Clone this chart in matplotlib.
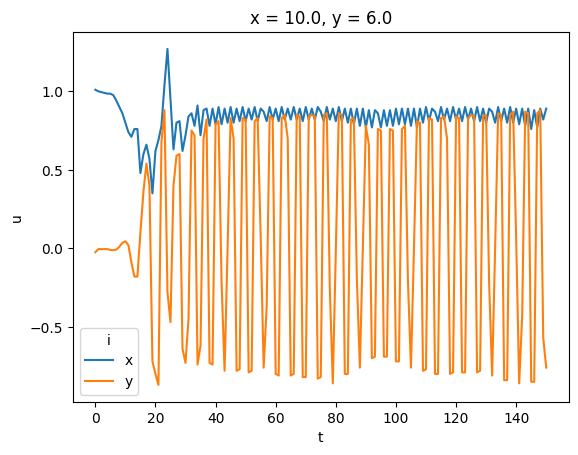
import numpy as np
import matplotlib
matplotlib.use("Agg")
import matplotlib.pyplot as plt

# time axis (one sample per unit)
t = np.arange(0, 151)

# component "x" of u
u_x = [
    1.01, 1.00, 0.995, 0.99, 0.985, 0.985, 0.975, 0.94, 0.90, 0.86,
    0.80, 0.74, 0.71, 0.76, 0.76, 0.48, 0.60, 0.66, 0.57, 0.35,
    0.62, 0.69, 0.78, 1.04, 1.27, 0.95, 0.63, 0.80, 0.81, 0.62,
    0.72, 0.84, 0.86, 0.78, 0.91, 0.72, 0.88, 0.89, 0.78, 0.89,
    0.79, 0.90, 0.79, 0.89, 0.80, 0.90, 0.80, 0.89, 0.81, 0.90,
    0.81, 0.89, 0.82, 0.90, 0.81, 0.89, 0.87, 0.81, 0.90, 0.82,
    0.89, 0.81, 0.90, 0.82, 0.89, 0.82, 0.90, 0.82, 0.89, 0.81,
    0.90, 0.82, 0.89, 0.82, 0.90, 0.87, 0.81, 0.90, 0.82, 0.89,
    0.81, 0.90, 0.81, 0.89, 0.80, 0.89, 0.79, 0.89, 0.78, 0.89,
    0.77, 0.88, 0.77, 0.88, 0.86, 0.77, 0.88, 0.78, 0.88, 0.78,
    0.89, 0.79, 0.89, 0.79, 0.89, 0.78, 0.89, 0.77, 0.89, 0.80,
    0.90, 0.81, 0.89, 0.87, 0.81, 0.90, 0.82, 0.89, 0.81, 0.90,
    0.82, 0.89, 0.81, 0.90, 0.82, 0.89, 0.81, 0.90, 0.81, 0.89,
    0.80, 0.89, 0.87, 0.80, 0.90, 0.81, 0.89, 0.80, 0.90, 0.80,
    0.89, 0.79, 0.89, 0.78, 0.89, 0.76, 0.88, 0.77, 0.89, 0.82,
    0.89,
]

# component "y" of u
u_y = [
    -0.025, -0.005, -0.005, -0.005, -0.005, -0.01, -0.012, -0.008, 0.01, 0.035,
    0.045, 0.02, -0.09, -0.18, -0.18, 0.10, 0.36, 0.54, 0.40, -0.72,
    -0.80, -0.87, 0.68, 0.88, -0.28, -0.47, 0.40, 0.59, 0.60, -0.64,
    -0.73, -0.45, 0.75, 0.72, -0.74, -0.62, 0.70, 0.82, -0.73, -0.74,
    0.79, 0.81, -0.22, -0.78, 0.0, 0.83, 0.70, -0.78, -0.77, 0.83,
    0.82, -0.79, -0.78, 0.81, 0.83, 0.08, -0.76, -0.37, 0.84, 0.83,
    -0.80, -0.81, 0.83, 0.85, 0.70, -0.81, -0.80, 0.85, 0.84, -0.82,
    -0.82, 0.84, 0.85, 0.84, -0.83, -0.82, 0.85, 0.86, -0.25, -0.86,
    -0.02, 0.86, 0.85, -0.80, -0.80, 0.82, 0.83, -0.19, -0.76, 0.0,
    0.78, 0.66, -0.70, -0.69, 0.76, 0.75, -0.69, -0.69, 0.76, 0.75,
    -0.72, -0.72, 0.76, 0.78, -0.21, -0.76, 0.0, 0.81, 0.80, -0.78,
    -0.77, 0.83, 0.82, -0.80, -0.80, 0.83, 0.84, 0.70, -0.80, -0.79,
    0.84, 0.83, -0.79, -0.79, 0.83, 0.85, 0.84, -0.79, -0.78, 0.84,
    0.85, -0.22, -0.81, 0.0, 0.86, 0.85, -0.84, -0.84, 0.85, 0.87,
    0.06, -0.86, -0.43, 0.87, 0.86, -0.85, -0.85, 0.86, 0.88, -0.57,
    -0.76,
]

components = ["x", "y"]

fig, ax = plt.subplots(figsize=(6.4, 4.8))
for name, values in zip(components, [u_x, u_y]):
    ax.plot(t, values, label=name)

ax.set_xlabel("t")
ax.set_ylabel("u")
ax.set_title("x = 10.0, y = 6.0")
ax.legend(title="i", loc="lower left")

fig.savefig("out.png", bbox_inches="tight")
